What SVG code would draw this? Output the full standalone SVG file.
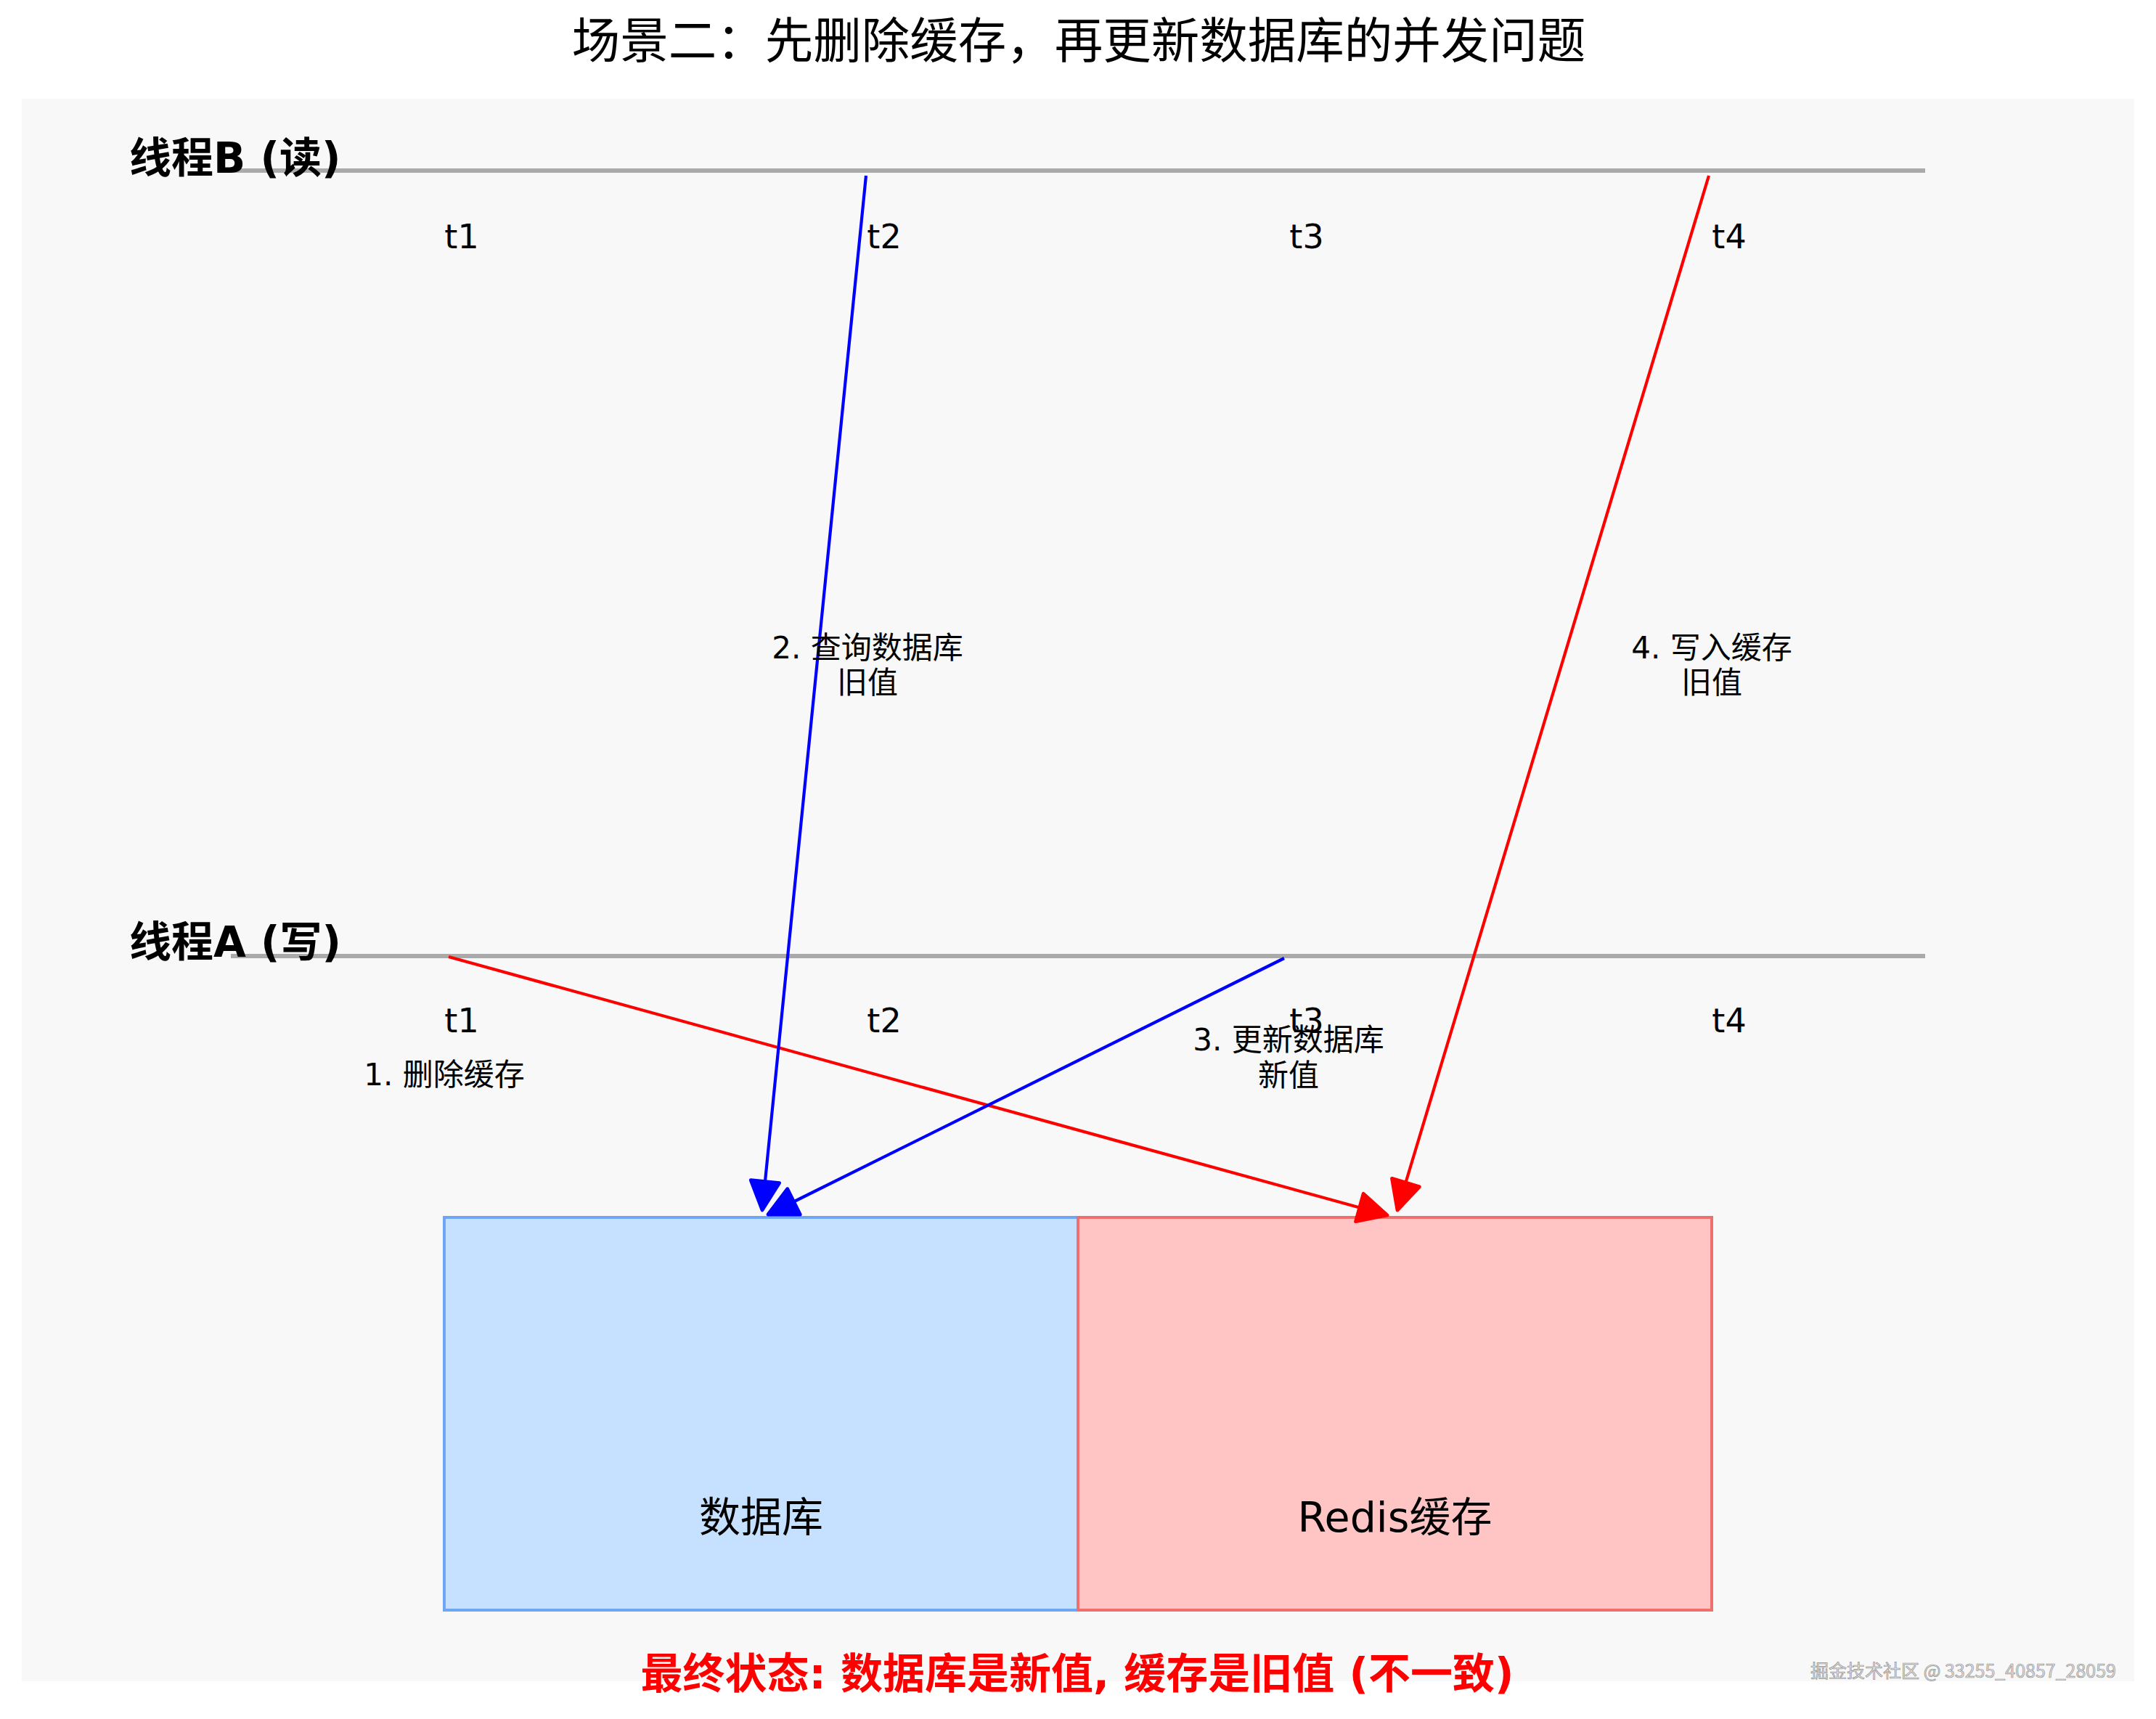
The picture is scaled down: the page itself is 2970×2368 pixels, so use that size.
<svg xmlns="http://www.w3.org/2000/svg" width="2970" height="2368" viewBox="0 0 2970 2368">
  <style>
    .txt { font-family: "DejaVu Sans", "Noto Sans CJK SC", sans-serif; fill: #000; }
    .title { font-family: "Noto Sans CJK SC", "DejaVu Sans", sans-serif; font-size: 66.5px; text-anchor: middle; }
    .thread { font-size: 58px; font-weight: bold; }
    .tick { font-size: 46px; text-anchor: middle; }
    .step { font-size: 42px; text-anchor: middle; }
    .box-label { font-size: 57px; text-anchor: middle; }
    .footer { font-size: 58px; font-weight: bold; fill: #ff0000; text-anchor: middle; }
    .lane { stroke: #aaaaaa; stroke-width: 6; fill: none; }
    .conn { fill: none; stroke-width: 4.2; }
    .blue { stroke: #0000ff; }
    .red { stroke: #ff0000; }
    .wm { font-family: "Noto Sans CJK SC", sans-serif; font-size: 25px; fill: #e2e2e2; stroke: #8f8f8f; stroke-width: 0.7; }
  </style>
  <defs>
    <marker id="ahBlue" markerUnits="userSpaceOnUse" orient="auto" refX="0" refY="0" markerWidth="60" markerHeight="60" viewBox="-40 -25 45 50" overflow="visible">
      <path d="M0,0 L-33,-16.5 L-33,16.5 Z" fill="#0000ff" stroke="#0000ff" stroke-width="4" stroke-linejoin="round"/>
    </marker>
    <marker id="ahRed" markerUnits="userSpaceOnUse" orient="auto" refX="0" refY="0" markerWidth="60" markerHeight="60" viewBox="-40 -25 45 50" overflow="visible">
      <path d="M0,0 L-33,-16.5 L-33,16.5 Z" fill="#ff0000" stroke="#ff0000" stroke-width="4" stroke-linejoin="round"/>
    </marker>
  </defs>

  <rect x="0" y="0" width="2970" height="2368" fill="#ffffff"/>
  <rect id="background" x="30" y="136" width="2910" height="2180" fill="#f8f8f8"/>

  <text id="title" class="txt title" x="1486" y="80">场景二：先删除缓存，再更新数据库的并发问题</text>

  <g id="thread-b">
    <line class="lane" x1="318" y1="235" x2="2652" y2="235"/>
    <text class="txt thread" x="178" y="238">线程B (读)</text>
    <text class="txt tick" x="636" y="342">t1</text>
    <text class="txt tick" x="1218" y="342">t2</text>
    <text class="txt tick" x="1800" y="342">t3</text>
    <text class="txt tick" x="2382" y="342">t4</text>
  </g>

  <g id="thread-a">
    <line class="lane" x1="318" y1="1317" x2="2652" y2="1317"/>
    <text class="txt thread" x="178" y="1318">线程A (写)</text>
    <text class="txt tick" x="636" y="1422">t1</text>
    <text class="txt tick" x="1218" y="1422">t2</text>
    <text class="txt tick" x="1800" y="1422">t3</text>
    <text class="txt tick" x="2382" y="1422">t4</text>
  </g>

  <g id="database">
    <rect x="612" y="1677" width="873" height="541" fill="#c5e1ff" stroke="#6ea6f6" stroke-width="4"/>
    <text class="txt box-label" x="1048.5" y="2110">数据库</text>
  </g>

  <g id="redis">
    <rect x="1485" y="1677" width="873" height="541" fill="#ffc5c5" stroke="#ef6e6e" stroke-width="4"/>
    <text class="txt box-label" x="1921.5" y="2110">Redis缓存</text>
  </g>

  <g id="connectors">
    <path class="conn red" d="M618,1318 L1911,1674" marker-end="url(#ahRed)"/>
    <path class="conn blue" d="M1193,242 L1050,1667" marker-end="url(#ahBlue)"/>
    <path class="conn blue" d="M1769,1320 L1058,1673" marker-end="url(#ahBlue)"/>
    <path class="conn red" d="M2354,242 L1925,1667" marker-end="url(#ahRed)"/>
  </g>

  <g id="step-labels">
    <text class="txt step" x="612" y="1495">1. 删除缓存</text>
    <text class="txt step" x="1195" y="907">2. 查询数据库<tspan x="1195" y="955">旧值</tspan></text>
    <text class="txt step" x="1775" y="1447">3. 更新数据库<tspan x="1775" y="1496">新值</tspan></text>
    <text class="txt step" x="2358" y="907">4. 写入缓存<tspan x="2358" y="955">旧值</tspan></text>
  </g>

  <text id="footer" class="txt footer" x="1484" y="2326">最终状态: 数据库是新值, 缓存是旧值 (不一致)</text>

  <text id="watermark" class="wm" x="2915" y="2311" text-anchor="end">掘金技术社区 @ 33255_40857_28059</text>
</svg>
